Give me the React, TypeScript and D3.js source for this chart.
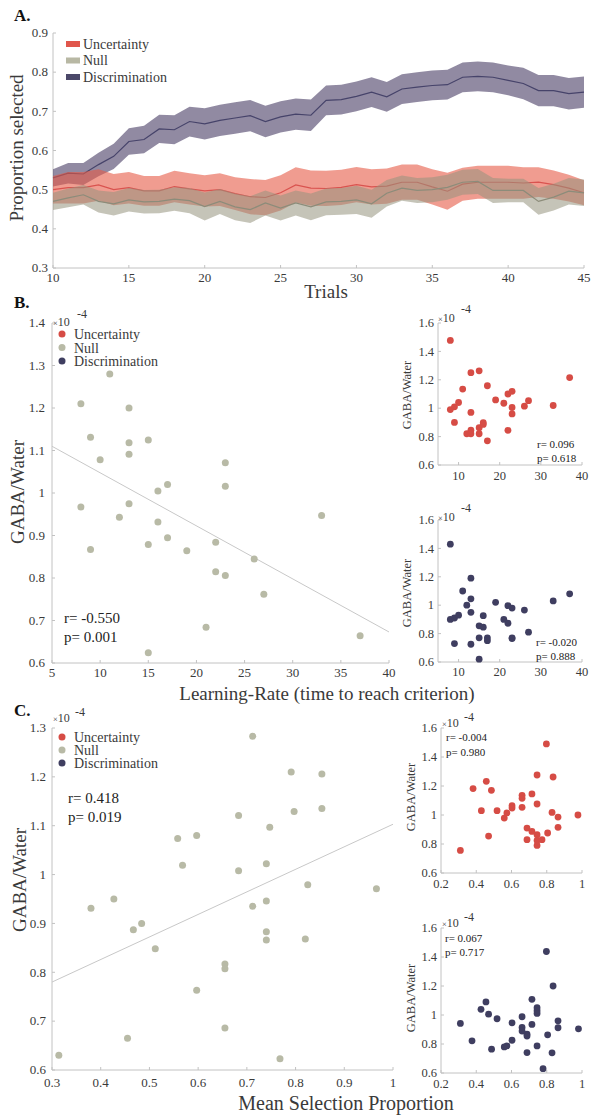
import React from 'react'
import * as d3 from 'd3'

// ---------- A. proportion selected across trials ----------
const trials = [10, 11, 12, 13, 14, 15, 16, 17, 18, 19, 20, 21, 22, 23, 24, 25, 26, 27,
  28, 29, 30, 31, 32, 33, 34, 35, 36, 37, 38, 39, 40, 41, 42, 43, 44, 45]
const uncertaintyMean = [0.500, 0.505, 0.505, 0.512, 0.500, 0.505, 0.497, 0.497, 0.508, 0.502, 0.497, 0.500,
  0.490, 0.482, 0.480, 0.492, 0.512, 0.504, 0.503, 0.506, 0.513, 0.507, 0.509, 0.519,
  0.519, 0.507, 0.496, 0.514, 0.519, 0.519, 0.519, 0.517, 0.519, 0.513, 0.504, 0.492]
const uncertaintySem = [0.035, 0.040, 0.040, 0.040, 0.040, 0.040, 0.038, 0.038, 0.040, 0.040, 0.040, 0.042,
  0.042, 0.045, 0.045, 0.045, 0.045, 0.045, 0.045, 0.045, 0.045, 0.045, 0.045, 0.045,
  0.045, 0.045, 0.047, 0.042, 0.042, 0.042, 0.042, 0.040, 0.038, 0.036, 0.034, 0.032]
const nullMean = [0.470, 0.479, 0.487, 0.470, 0.464, 0.474, 0.469, 0.470, 0.476, 0.472, 0.457, 0.470,
  0.456, 0.449, 0.466, 0.453, 0.466, 0.456, 0.469, 0.470, 0.474, 0.464, 0.491, 0.504,
  0.498, 0.500, 0.506, 0.519, 0.521, 0.498, 0.498, 0.498, 0.470, 0.481, 0.496, 0.492]
const nullSem = [0.022, 0.024, 0.025, 0.028, 0.030, 0.030, 0.030, 0.030, 0.030, 0.032, 0.036, 0.032,
  0.034, 0.034, 0.032, 0.032, 0.032, 0.034, 0.034, 0.034, 0.036, 0.036, 0.034, 0.032,
  0.032, 0.032, 0.032, 0.032, 0.032, 0.032, 0.030, 0.030, 0.034, 0.034, 0.034, 0.034]
const discMean = [0.530, 0.542, 0.540, 0.564, 0.585, 0.623, 0.628, 0.655, 0.653, 0.674, 0.668, 0.677,
  0.683, 0.689, 0.674, 0.686, 0.693, 0.690, 0.728, 0.730, 0.738, 0.749, 0.737, 0.757,
  0.762, 0.766, 0.768, 0.787, 0.789, 0.787, 0.779, 0.771, 0.753, 0.753, 0.745, 0.749]
const discSem = [0.022, 0.026, 0.028, 0.030, 0.032, 0.034, 0.035, 0.036, 0.037, 0.038, 0.040, 0.040,
  0.040, 0.040, 0.040, 0.040, 0.040, 0.040, 0.038, 0.038, 0.038, 0.038, 0.038, 0.038,
  0.038, 0.038, 0.038, 0.038, 0.038, 0.038, 0.038, 0.040, 0.040, 0.040, 0.040, 0.040]
const aXTicks = [10, 15, 20, 25, 30, 35, 40, 45]
const aYTicks = [0.3, 0.4, 0.5, 0.6, 0.7, 0.8, 0.9]

const groupNames = ['Uncertainty', 'Null', 'Discrimination']

// ---------- B. GABA vs learning rate ----------
const learningRate = [8, 8, 9, 9, 10, 11, 12, 13, 13, 13, 13, 15, 15, 15, 16, 16, 17, 17, 19, 21,
  22, 22, 23, 23, 23, 26, 27, 33, 37]
const gabaNullB = [1.21, 0.967, 1.131, 0.867, 1.078, 1.28, 0.943, 1.2, 1.118, 1.091, 0.975, 1.125, 0.879, 0.624,
  1.005, 0.932, 1.02, 0.895, 0.864, 0.684, 0.884, 0.815, 1.071, 1.016, 0.806, 0.845, 0.762, 0.947, 0.664]
const gabaUncB = [1.477, 0.99, 1.01, 0.9, 1.04, 1.135, 0.82, 1.25, 0.97, 0.845, 0.82, 1.263, 0.863, 0.82,
  0.886, 0.898, 1.158, 0.77, 1.058, 1.035, 1.1, 0.844, 1.119, 1.005, 0.96, 1.014, 1.053, 1.019, 1.216]
const gabaDiscB = [1.43, 0.9, 0.91, 0.73, 0.93, 1.1, 1.0, 1.19, 1.045, 0.95, 0.725, 0.855, 0.77, 0.62,
  0.926, 0.845, 0.77, 0.75, 1.02, 0.9, 0.873, 0.997, 0.98, 0.77, 0.765, 0.966, 0.81, 1.03, 1.08]
const bFitX = [5, 40]
const bFitY = [1.11, 0.673]

// ---------- C. GABA vs mean selection proportion ----------
const selNullC = [0.712, 0.791, 0.797, 0.683, 0.747, 0.597, 0.558, 0.568, 0.683, 0.74, 0.74, 0.712, 0.427,
  0.38, 0.484, 0.467, 0.512, 0.74, 0.74, 0.655, 0.655, 0.597, 0.655, 0.455, 0.314, 0.768, 0.854,
  0.854, 0.825, 0.966, 0.82]
const gabaNullC = [1.283, 1.21, 1.129, 1.121, 1.097, 1.08, 1.074, 1.019, 1.008, 1.022, 0.946, 0.935, 0.95,
  0.931, 0.9, 0.887, 0.848, 0.883, 0.866, 0.817, 0.807, 0.763, 0.686, 0.665, 0.63, 0.623, 1.206,
  1.135, 0.979, 0.971, 0.868]
const selUncC = [0.798, 0.31, 0.382, 0.457, 0.486, 0.429, 0.518, 0.47, 0.559, 0.574, 0.603, 0.603, 0.66,
  0.66, 0.66, 0.716, 0.745, 0.745, 0.688, 0.688, 0.716, 0.745, 0.745, 0.745, 0.773, 0.805, 0.83,
  0.836, 0.864, 0.864, 0.977]
const gabaUncC = [1.49, 0.756, 1.182, 1.232, 1.17, 1.03, 1.03, 0.855, 0.979, 1.014, 1.064, 1.048, 1.136,
  1.115, 1.053, 1.145, 1.276, 1.076, 0.91, 0.83, 0.887, 0.864, 0.825, 0.79, 0.83, 0.876, 1.018,
  1.262, 0.986, 0.915, 1.0]
const selDiscC = [0.798, 0.836, 0.31, 0.376, 0.427, 0.455, 0.47, 0.487, 0.518, 0.559, 0.574, 0.603, 0.603,
  0.66, 0.66, 0.66, 0.688, 0.688, 0.688, 0.716, 0.716, 0.745, 0.745, 0.745, 0.745, 0.779, 0.805,
  0.83, 0.864, 0.864, 0.98]
const gabaDiscC = [1.438, 1.2, 0.942, 0.822, 1.039, 1.09, 1.006, 0.764, 0.974, 0.78, 0.787, 0.946, 0.826,
  0.988, 0.914, 0.889, 0.868, 0.855, 0.741, 1.108, 0.935, 1.05, 1.03, 1.011, 0.787, 0.63, 0.863,
  0.739, 0.912, 0.96, 0.905]
const cFitX = [0.3, 1.0]
const cFitY = [0.78, 1.103]

const FONT = '"Liberation Serif", "Times New Roman", serif'
const AXIS = '#c2c2c2'
const TXT = '#3a3a3a'
const RED = '#d64c45'
const GRAY = '#b8baa6'
const NAVY = '#3f3e60'
const fmt = (v: number) => String(+v.toFixed(2))

type Box = { left: number; right: number; top: number; bottom: number }

function Axes(p: {
  box: Box; x: d3.ScaleLinear<number, number>; y: d3.ScaleLinear<number, number>
  xTicks: number[]; yTicks: number[]; fs: number; xDy: number; yDx: number
}) {
  const { box, x, y, fs } = p
  return (
    <g fontFamily={FONT} fontSize={fs} fill={TXT}>
      <line x1={box.left} x2={box.right} y1={box.bottom} y2={box.bottom} stroke={AXIS} />
      <line x1={box.left} x2={box.left} y1={box.top} y2={box.bottom} stroke={AXIS} />
      {p.xTicks.map(t => (
        <g key={'x' + t}>
          <line x1={x(t)} x2={x(t)} y1={box.bottom} y2={box.bottom - 3} stroke={AXIS} />
          <text x={x(t)} y={box.bottom + p.xDy} textAnchor="middle">{fmt(t)}</text>
        </g>
      ))}
      {p.yTicks.map(t => (
        <g key={'y' + t}>
          <line x1={box.left} x2={box.left + 3} y1={y(t)} y2={y(t)} stroke={AXIS} />
          <text x={box.left - p.yDx} y={y(t) + fs * 0.33} textAnchor="end">{fmt(t)}</text>
        </g>
      ))}
    </g>
  )
}

function Mult({ x, y, sx, sy, fs }: { x: number; y: number; sx: number; sy: number; fs: number }) {
  return (
    <g fontFamily={FONT} fill={TXT}>
      <text x={x} y={y} fontSize={fs}><tspan fontSize={fs * 0.7}>×</tspan>10</text>
      <text x={sx} y={sy} fontSize={fs}>-4</text>
    </g>
  )
}

function DotLegend({ x, y0, step }: { x: number; y0: number; step: number }) {
  const cols = [RED, GRAY, NAVY]
  return (
    <g fontFamily={FONT} fontSize={14} fill={TXT}>
      {groupNames.map((n, i) => (
        <g key={n}>
          <circle cx={x} cy={y0 + i * step} r={3.5} fill={cols[i]} />
          <text x={x + 12} y={y0 + i * step + 5}>{n}</text>
        </g>
      ))}
    </g>
  )
}

function Scatter(p: {
  xs: number[]; ys: number[]; color: string; box: Box
  xDomain: number[]; yDomain: number[]; xTicks: number[]; yTicks: number[]
  fs: number; xDy: number; yDx: number
  yLabel: { x: number; y: number; fs: number }
  mult: { x: number; y: number; sx: number; sy: number; fs: number }
  stats: { x: number; y: number; fs: number; lh: number; lines: string[] }
  fit?: { xs: number[]; ys: number[] }
  r: number
}) {
  const { box } = p
  const x = d3.scaleLinear().domain(p.xDomain).range([box.left, box.right])
  const y = d3.scaleLinear().domain(p.yDomain).range([box.bottom, box.top])
  const fitPath = p.fit
    ? d3.line<number>().x((d, i) => x(p.fit!.xs[i])).y(d => y(d))(p.fit.ys)
    : null
  return (
    <g>
      <Axes box={box} x={x} y={y} xTicks={p.xTicks} yTicks={p.yTicks} fs={p.fs} xDy={p.xDy} yDx={p.yDx} />
      {fitPath && <path d={fitPath} fill="none" stroke="#c8c8c8" strokeWidth={1} />}
      {p.xs.map((v, i) => (
        <circle key={i} cx={x(v)} cy={y(p.ys[i])} r={p.r} fill={p.color} />
      ))}
      <text transform={`translate(${p.yLabel.x},${p.yLabel.y}) rotate(-90)`} textAnchor="middle"
        fontFamily={FONT} fontSize={p.yLabel.fs} fill={TXT}>GABA/Water</text>
      <Mult {...p.mult} />
      <g fontFamily={FONT} fontSize={p.stats.fs} fill="#222">
        {p.stats.lines.map((l, i) => (
          <text key={i} x={p.stats.x} y={p.stats.y + i * p.stats.lh}>{l}</text>
        ))}
      </g>
    </g>
  )
}

function PanelA() {
  const box = { left: 53, right: 584, top: 33, bottom: 268 }
  const x = d3.scaleLinear().domain([10, 45]).range([box.left, box.right])
  const y = d3.scaleLinear().domain([0.3, 0.9]).range([box.bottom, box.top])
  const series = [
    { name: 'Discrimination', mean: discMean, sem: discSem, fill: 'rgba(72,60,100,0.6)', stroke: '#46436a' },
    { name: 'Uncertainty', mean: uncertaintyMean, sem: uncertaintySem, fill: 'rgba(230,90,70,0.6)', stroke: '#d9534f' },
    { name: 'Null', mean: nullMean, sem: nullSem, fill: 'rgba(150,148,125,0.55)', stroke: '#8c8c7a' },
  ]
  const swatch = ['#e0564c', '#b8b8a4', '#4b4869']
  return (
    <g>
      <Axes box={box} x={x} y={y} xTicks={aXTicks} yTicks={aYTicks} fs={13} xDy={14} yDx={5} />
      {series.map(s => {
        const area = d3.area<number>()
          .x((d, i) => x(trials[i]))
          .y0((d, i) => y(d - s.sem[i]))
          .y1((d, i) => y(d + s.sem[i]))(s.mean)
        const line = d3.line<number>().x((d, i) => x(trials[i])).y(d => y(d))(s.mean)
        return (
          <g key={s.name}>
            <path d={area!} fill={s.fill} />
            <path d={line!} fill="none" stroke={s.stroke} strokeWidth={1.2} />
          </g>
        )
      })}
      <g fontFamily={FONT} fontSize={14} fill={TXT}>
        {groupNames.map((n, i) => (
          <g key={n}>
            <rect x={66} y={41 + i * 16.5} width={14} height={6} fill={swatch[i]} />
            <text x={83} y={48.5 + i * 16.5}>{n}</text>
          </g>
        ))}
      </g>
      <text transform="translate(23,148) rotate(-90)" textAnchor="middle" fontFamily={FONT}
        fontSize={19} fill={TXT}>Proportion selected</text>
      <text x={326} y={298} textAnchor="middle" fontFamily={FONT} fontSize={19} fill={TXT}>Trials</text>
    </g>
  )
}

export default function App() {
  const lrTicks = [5, 10, 15, 20, 25, 30, 35, 40]
  const lrSmallTicks = [10, 20, 30, 40]
  const selTicks = [0.3, 0.4, 0.5, 0.6, 0.7, 0.8, 0.9, 1]
  const selSmallTicks = [0.2, 0.4, 0.6, 0.8, 1]
  const gBig = [0.6, 0.7, 0.8, 0.9, 1, 1.1, 1.2, 1.3, 1.4]
  const gBigC = [0.6, 0.7, 0.8, 0.9, 1, 1.1, 1.2, 1.3]
  const gSmall = [0.6, 0.8, 1, 1.2, 1.4, 1.6]
  const smallB = { left: 438, right: 582 }
  const smallC = { left: 441, right: 582 }
  return (
    <svg width={593} height={1117} style={{ position: 'absolute', left: 0, top: 0, background: '#fff' }}>
      <g fontFamily={FONT} fontWeight="bold" fontSize={17} fill="#111">
        <text x={14} y={21}>A.</text>
        <text x={14} y={308}>B.</text>
        <text x={14} y={716}>C.</text>
      </g>
      <PanelA />

      {/* B main */}
      <Scatter xs={learningRate} ys={gabaNullB} color={GRAY} r={3.5}
        box={{ left: 52, right: 389, top: 323, bottom: 663 }}
        xDomain={[5, 40]} yDomain={[0.6, 1.4]} xTicks={lrTicks} yTicks={gBig}
        fs={13} xDy={13.5} yDx={7}
        yLabel={{ x: 24, y: 492, fs: 19 }}
        mult={{ x: 53, y: 326, sx: 77, sy: 318, fs: 12 }}
        stats={{ x: 64, y: 623, fs: 15, lh: 19, lines: ['r= -0.550', 'p= 0.001'] }}
        fit={{ xs: bFitX, ys: bFitY }} />
      <DotLegend x={62} y0={334} step={13.5} />
      <text x={327} y={700} textAnchor="middle" fontFamily={FONT} fontSize={19} fill={TXT}>
        Learning-Rate (time to reach criterion)
      </text>

      {/* B small */}
      <Scatter xs={learningRate} ys={gabaUncB} color={RED} r={3.4}
        box={{ ...smallB, top: 323, bottom: 465 }}
        xDomain={[5, 40]} yDomain={[0.6, 1.6]} xTicks={lrSmallTicks} yTicks={gSmall}
        fs={12.5} xDy={15} yDx={4}
        yLabel={{ x: 411, y: 395, fs: 12.5 }}
        mult={{ x: 438, y: 322, sx: 461, sy: 313, fs: 12 }}
        stats={{ x: 537, y: 448, fs: 11, lh: 13.5, lines: ['r= 0.096', 'p= 0.618'] }} />
      <Scatter xs={learningRate} ys={gabaDiscB} color={NAVY} r={3.4}
        box={{ ...smallB, top: 520, bottom: 662 }}
        xDomain={[5, 40]} yDomain={[0.6, 1.6]} xTicks={lrSmallTicks} yTicks={gSmall}
        fs={12.5} xDy={14} yDx={4}
        yLabel={{ x: 411, y: 593, fs: 12.5 }}
        mult={{ x: 438, y: 521, sx: 461, sy: 512, fs: 12 }}
        stats={{ x: 536, y: 646, fs: 11, lh: 13.5, lines: ['r= -0.020', 'p= 0.888'] }} />

      {/* C main */}
      <Scatter xs={selNullC} ys={gabaNullC} color={GRAY} r={3.5}
        box={{ left: 52, right: 393, top: 728, bottom: 1070 }}
        xDomain={[0.3, 1]} yDomain={[0.6, 1.3]} xTicks={selTicks} yTicks={gBigC}
        fs={13} xDy={17} yDx={6}
        yLabel={{ x: 26, y: 880, fs: 19 }}
        mult={{ x: 53, y: 722, sx: 75, sy: 716, fs: 12 }}
        stats={{ x: 68, y: 803, fs: 15, lh: 18.5, lines: ['r= 0.418', 'p= 0.019'] }}
        fit={{ xs: cFitX, ys: cFitY }} />
      <DotLegend x={62} y0={737} step={13} />
      <text x={346} y={1110} textAnchor="middle" fontFamily={FONT} fontSize={20} fill={TXT}>
        Mean Selection Proportion
      </text>

      {/* C small */}
      <Scatter xs={selUncC} ys={gabaUncC} color={RED} r={3.4}
        box={{ ...smallC, top: 728, bottom: 873 }}
        xDomain={[0.2, 1]} yDomain={[0.6, 1.6]} xTicks={selSmallTicks} yTicks={gSmall}
        fs={12.5} xDy={15} yDx={4}
        yLabel={{ x: 415, y: 797, fs: 12.5 }}
        mult={{ x: 442, y: 727, sx: 464, sy: 721, fs: 12 }}
        stats={{ x: 446, y: 741, fs: 11, lh: 15, lines: ['r= -0.004', 'p= 0.980'] }} />
      <Scatter xs={selDiscC} ys={gabaDiscC} color={NAVY} r={3.4}
        box={{ ...smallC, top: 928, bottom: 1073 }}
        xDomain={[0.2, 1]} yDomain={[0.6, 1.6]} xTicks={selSmallTicks} yTicks={gSmall}
        fs={12.5} xDy={15} yDx={4}
        yLabel={{ x: 415, y: 998, fs: 12.5 }}
        mult={{ x: 442, y: 927, sx: 464, sy: 921, fs: 12 }}
        stats={{ x: 445, y: 942, fs: 11, lh: 14, lines: ['r= 0.067', 'p= 0.717'] }} />
    </svg>
  )
}
